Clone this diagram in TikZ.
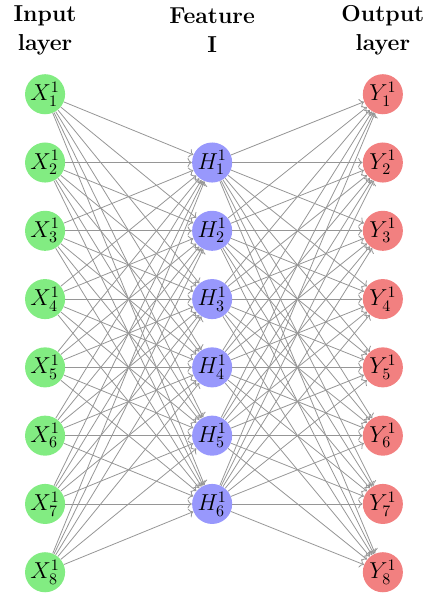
\documentclass[tikz,border=0pt]{standalone}
\usepackage{amsmath,amssymb}
\usepackage{tikz}
\usepackage{xcolor}
\definecolor{netgreen}{RGB}{130, 236, 130}
\definecolor{netblue}{RGB}{152, 152, 252}
\definecolor{netred}{RGB}{242, 128, 128}
\definecolor{netgray}{RGB}{150, 150, 150}
\usetikzlibrary{positioning,arrows.meta}

\begin{document}
\begin{tikzpicture}[
    neuron/.style={circle, minimum size=0.88cm, inner sep=0pt, font=\Large},
    layerlabel/.style={align=center, font=\Large\bfseries},
    link/.style={->, netgray, line width=0.5pt}
]
    \useasboundingbox (0, 0) rectangle (9.49, 13.07);

    % Input layer
    \foreach \i in {1,...,8} {
        \node[neuron, fill=netgreen] (I-\i) at (0.99, 12.5 - 1.5*\i) {$X_{\i}^{1}$};
    }

    % Feature layer
    \foreach \j in {1,...,6} {
        \node[neuron, fill=netblue] (H-\j) at (4.66, 11 - 1.5*\j) {$H_{\j}^{1}$};
    }

    % Output layer
    \foreach \i in {1,...,8} {
        \node[neuron, fill=netred] (O-\i) at (8.41, 12.5 - 1.5*\i) {$Y_{\i}^{1}$};
    }

    % Connections
    \foreach \i in {1,...,8} {
        \foreach \j in {1,...,6} {
            \draw[link] (I-\i) -- (H-\j);
            \draw[link] (H-\j) -- (O-\i);
        }
    }

    % Labels
    \node[layerlabel] (lab-in) at (0.99, 12.4) {Input\\layer};
    \node[layerlabel] (lab-hid) at (4.66, 12.4) {Feature\\I};
    \node[layerlabel] (lab-out) at (8.41, 12.4) {Output\\layer};
\end{tikzpicture}
\end{document}
